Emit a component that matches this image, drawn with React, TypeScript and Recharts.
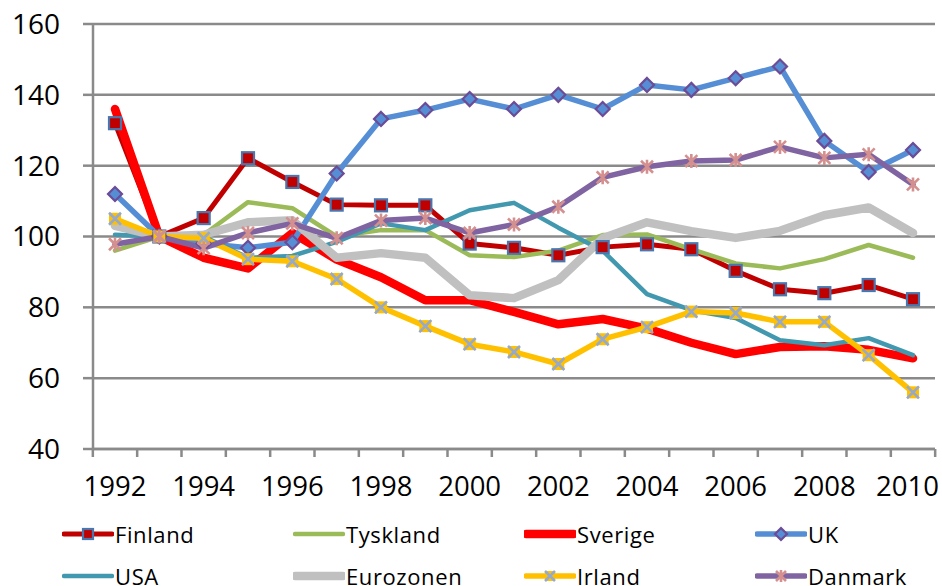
import { LineChart, Line, XAxis, YAxis, CartesianGrid } from 'recharts';

const YEARS = [1992, 1993, 1994, 1995, 1996, 1997, 1998, 1999, 2000, 2001, 2002, 2003, 2004, 2005, 2006, 2007, 2008, 2009, 2010];

const FINLAND = [132, 100, 105.2, 122.1, 115.4, 109, 108.8, 108.8, 98, 96.8, 94.7, 97, 97.8, 96.4, 90.3, 85.1, 84, 86.3, 82.3];
const TYSKLAND = [96, 100, 100.5, 109.7, 108, 100, 101.8, 101.8, 94.7, 94.2, 96, 100.4, 100.6, 96.4, 92.4, 91, 93.6, 97.6, 94];
const SVERIGE = [136, 100, 94, 91, 101, 93.5, 88.5, 82, 82, 78.7, 75.2, 76.7, 74, 70, 66.8, 68.8, 69, 68, 65.6];
const UK = [112, 100, 98, 96.8, 98.4, 117.8, 133.2, 135.7, 138.8, 136, 140, 136, 142.8, 141.4, 144.7, 148, 127, 118.2, 124.4];
const USA = [100.5, 100, 100, 94, 94.5, 98.5, 103.7, 101.8, 107.4, 109.5, 102.5, 96, 83.7, 79.2, 77, 70.7, 69.3, 71.3, 66.5];
const EUROZONEN = [103, 100, 100.5, 104, 104.6, 94, 95.3, 94, 83.4, 82.6, 87.7, 99.5, 104, 101.5, 99.6, 101.6, 106, 108.2, 101];
const IRLAND = [105, 100, 99.5, 93.6, 93, 88, 80, 74.7, 69.6, 67.4, 64, 71, 74.4, 78.8, 78.4, 75.9, 75.9, 66.5, 56];
const DANMARK = [97.8, 100, 96.7, 101, 103.7, 99.5, 104.5, 105.2, 101, 103.4, 108.4, 116.7, 119.7, 121.3, 121.6, 125.3, 122.2, 123.2, 114.7];

const Y_TICKS = [40, 60, 80, 100, 120, 140, 160];

const data = YEARS.map((year, i) => ({
  year,
  Finland: FINLAND[i],
  Tyskland: TYSKLAND[i],
  Sverige: SVERIGE[i],
  UK: UK[i],
  USA: USA[i],
  Eurozonen: EUROZONEN[i],
  Irland: IRLAND[i],
  Danmark: DANMARK[i],
}));

const W = 942;
const H = 586;
const PLOT_LEFT = 93;
const PLOT_RIGHT = 935;
const PLOT_TOP = 24;
const PLOT_BOTTOM = 449;
const PAD = 22;
const STEP = (PLOT_RIGHT - PLOT_LEFT - 2 * PAD) / (YEARS.length - 1);
const GRID = '#8a8a8a';
const FONT = '"Open Sans", sans-serif';

type Marker = 'square' | 'diamond' | 'x' | 'star' | null;

function drawMarker(kind: Marker, cx: number, cy: number, s: number, key?: string | number) {
  if (kind === 'square') {
    return <rect key={key} x={cx - s} y={cy - s} width={2 * s} height={2 * s} fill="#C00000" stroke="#4A76AE" strokeWidth={2.2} />;
  }
  if (kind === 'diamond') {
    return (
      <polygon key={key} points={`${cx},${cy - s - 1} ${cx + s + 1},${cy} ${cx},${cy + s + 1} ${cx - s - 1},${cy}`}
        fill="#558ED5" stroke="#6C4C96" strokeWidth={2.2} />
    );
  }
  if (kind === 'x') {
    return (
      <g key={key}>
        <rect x={cx - s} y={cy - s} width={2 * s} height={2 * s} fill="#FFC000" />
        <path d={`M${cx - s},${cy - s}L${cx + s},${cy + s}M${cx + s},${cy - s}L${cx - s},${cy + s}`} stroke="#95A9CC" strokeWidth={2.6} />
      </g>
    );
  }
  if (kind === 'star') {
    return (
      <path key={key} d={`M${cx - s},${cy - s}L${cx + s},${cy + s}M${cx + s},${cy - s}L${cx - s},${cy + s}M${cx},${cy - s - 1}L${cx},${cy + s + 1}`}
        stroke="#D4908E" strokeWidth={2.6} fill="none" />
    );
  }
  return null;
}

const SERIES: { key: string; color: string; width: number; marker: Marker }[] = [
  { key: 'Finland', color: '#C00000', width: 5, marker: 'square' },
  { key: 'Tyskland', color: '#9BBB59', width: 4.5, marker: null },
  { key: 'Sverige', color: '#FF0000', width: 8.5, marker: null },
  { key: 'UK', color: '#558ED5', width: 5.5, marker: 'diamond' },
  { key: 'USA', color: '#4198AF', width: 4.5, marker: null },
  { key: 'Eurozonen', color: '#C0C0C0', width: 8.5, marker: null },
  { key: 'Irland', color: '#FFC000', width: 5.5, marker: 'x' },
  { key: 'Danmark', color: '#8064A2', width: 5.5, marker: 'star' },
];

function YearTick(props: any) {
  const { x, y, payload, index } = props;
  const half = STEP / 2;
  const last = index === YEARS.length - 1;
  return (
    <g>
      <line x1={x - half} x2={x - half} y1={y} y2={y + 8} stroke={GRID} strokeWidth={2.5} />
      {last && <line x1={x + half} x2={x + half} y1={y} y2={y + 8} stroke={GRID} strokeWidth={2.5} />}
      {index % 2 === 0 && (
        <text
          x={last ? W - 3 : x}
          y={y + 47}
          textAnchor={last ? 'end' : 'middle'}
          fontSize={27.5}
          fontFamily={FONT}
          fill="#000"
        >
          {payload.value}
        </text>
      )}
    </g>
  );
}

function LegendBox() {
  return (
    <div style={{ position: 'absolute', left: 0, top: 0, width: W, height: H, pointerEvents: 'none' }}>
      {SERIES.map((s, i) => {
        const col = i % 4;
        const row = Math.floor(i / 4);
        const left = 62 + col * 231;
        const cy = 534 + row * 42;
        return (
          <div key={s.key} style={{ position: 'absolute', left, top: cy - 16, height: 32, display: 'flex', alignItems: 'center' }}>
            <svg width={52} height={20} style={{ display: 'block' }}>
              <line x1={2} x2={50} y1={10} y2={10} stroke={s.color} strokeWidth={s.width} strokeLinecap="round" />
              {drawMarker(s.marker, 26, 10, 5)}
            </svg>
            <span style={{ fontFamily: FONT, fontSize: 22, letterSpacing: 0.6, color: '#000', marginLeft: 1, lineHeight: '32px' }}>
              {s.key}
            </span>
          </div>
        );
      })}
    </div>
  );
}

export default function App() {
  return (
    <div style={{ position: 'absolute', left: 0, top: 0, width: W, height: H, background: '#fff', overflow: 'hidden' }}>
      <LineChart
        width={W}
        height={H}
        data={data}
        margin={{ top: PLOT_TOP, right: W - PLOT_RIGHT, left: 0, bottom: H - PLOT_BOTTOM - 60 }}
      >
        <CartesianGrid vertical={false} stroke={GRID} strokeWidth={2.5} />
        <XAxis
          dataKey="year"
          interval={0}
          padding={{ left: PAD, right: PAD }}
          height={60}
          tickSize={0}
          tickMargin={0}
          tickLine={false}
          axisLine={{ stroke: GRID, strokeWidth: 2.5 }}
          tick={<YearTick />}
        />
        <YAxis
          domain={[40, 160]}
          ticks={Y_TICKS}
          width={PLOT_LEFT}
          tickSize={10}
          tickMargin={23}
          axisLine={{ stroke: GRID, strokeWidth: 2.5 }}
          tickLine={{ stroke: GRID, strokeWidth: 2.5 }}
          tick={{ fontSize: 28, fontFamily: FONT, fill: '#000' }}
          allowDataOverflow
        />
        {SERIES.map((s) => (
          <Line
            key={s.key}
            dataKey={s.key}
            type="linear"
            stroke={s.color}
            strokeWidth={s.width}
            strokeLinejoin="round"
            strokeLinecap="round"
            isAnimationActive={false}
            activeDot={false}
            dot={
              s.marker
                ? (p: any) => drawMarker(s.marker, p.cx, p.cy, 6, `${s.key}-${p.index}`) ?? <g key={`${s.key}-${p.index}`} />
                : false
            }
          />
        ))}
      </LineChart>
      <LegendBox />
    </div>
  );
}
